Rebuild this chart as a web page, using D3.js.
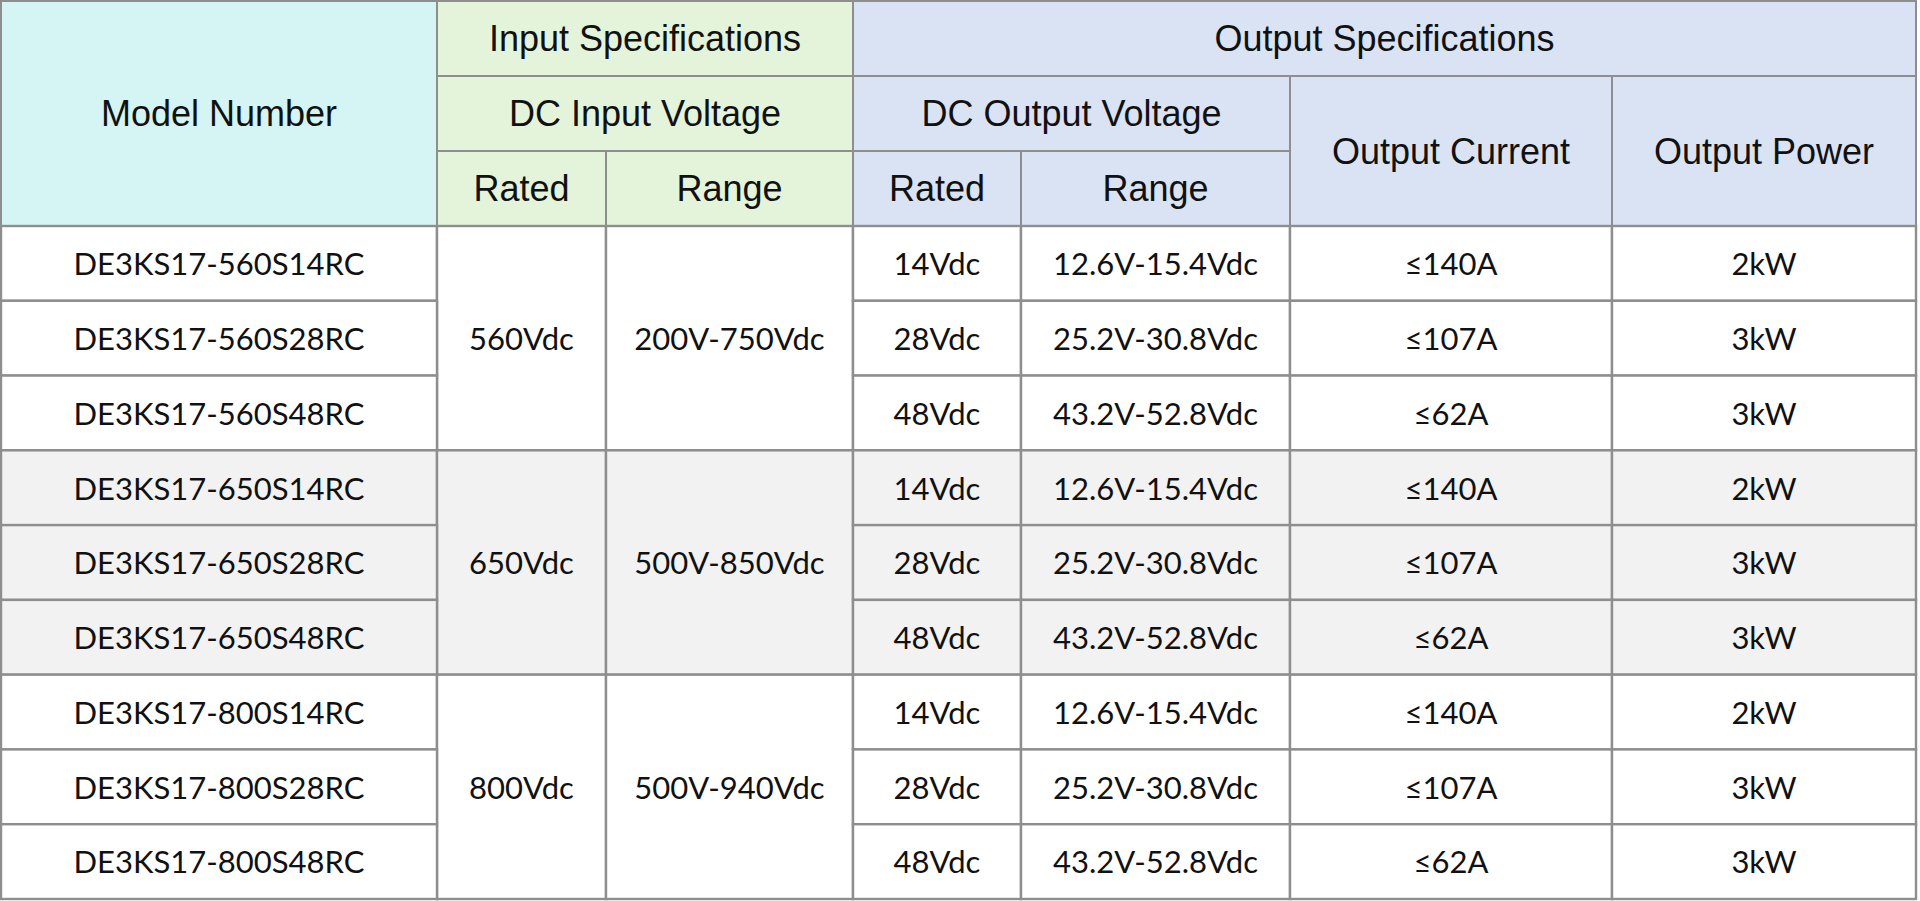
<!DOCTYPE html>
<html>
<head>
<meta charset="utf-8">
<script src="https://cdn.jsdelivr.net/npm/d3@7"></script>
<style>
  html, body { margin: 0; padding: 0; background: #fff; overflow: hidden; }
  .hdr { font-family: "Liberation Sans", Arial, sans-serif; font-size: 36px; fill: #111; }
  .cell { font-family: Lato, "Open Sans", sans-serif; font-size: 31px; fill: #111; }
</style>
</head>
<body>
<div class="chart"></div>
<script>
// table data
const models = ["DE3KS17-560S14RC", "DE3KS17-560S28RC", "DE3KS17-560S48RC",
                "DE3KS17-650S14RC", "DE3KS17-650S28RC", "DE3KS17-650S48RC",
                "DE3KS17-800S14RC", "DE3KS17-800S28RC", "DE3KS17-800S48RC"];
const inputRated = ["560Vdc", "650Vdc", "800Vdc"];
const inputRange = ["200V-750Vdc", "500V-850Vdc", "500V-940Vdc"];
const outputRated = ["14Vdc", "28Vdc", "48Vdc", "14Vdc", "28Vdc", "48Vdc", "14Vdc", "28Vdc", "48Vdc"];
const outputRange = ["12.6V-15.4Vdc", "25.2V-30.8Vdc", "43.2V-52.8Vdc",
                     "12.6V-15.4Vdc", "25.2V-30.8Vdc", "43.2V-52.8Vdc",
                     "12.6V-15.4Vdc", "25.2V-30.8Vdc", "43.2V-52.8Vdc"];
const outputCurrent = ["≤140A", "≤107A", "≤62A", "≤140A", "≤107A", "≤62A", "≤140A", "≤107A", "≤62A"];
const outputPower = ["2kW", "3kW", "3kW", "2kW", "3kW", "3kW", "2kW", "3kW", "3kW"];

// header cells: text, first col, last col, first row, last row, group
const headers = [
  ["Model Number", 0, 0, 0, 2, "model"],
  ["Input Specifications", 1, 2, 0, 0, "input"],
  ["DC Input Voltage", 1, 2, 1, 1, "input"],
  ["Rated", 1, 1, 2, 2, "input"],
  ["Range", 2, 2, 2, 2, "input"],
  ["Output Specifications", 3, 6, 0, 0, "output"],
  ["DC Output Voltage", 3, 4, 1, 1, "output"],
  ["Rated", 3, 3, 2, 2, "output"],
  ["Range", 4, 4, 2, 2, "output"],
  ["Output Current", 5, 5, 1, 2, "output"],
  ["Output Power", 6, 6, 1, 2, "output"]
];

// layout
const width = 1920, height = 901;
const colEdges = [1, 437, 606, 853, 1021, 1290, 1612, 1916];
const headFill = { model: "#d4f5f3", input: "#e4f4da", output: "#dae3f4" };
const groupFill = ["#ffffff", "#f2f2f2", "#ffffff"];
const lineColor = "#8e8e8e";

const svg = d3.select(".chart")
  .append("svg")
  .attr("width", width)
  .attr("height", height);

// scales for rows
const yHead = d3.scaleBand().domain(d3.range(3)).range([1, 226]);
const yBody = d3.scaleBand().domain(d3.range(models.length)).range([226, 899]);
const x0 = c => colEdges[c];
const x1 = c => colEdges[c + 1];

// header
const hg = svg.append("g");
const hcell = hg.selectAll("g").data(headers).join("g");
hcell.append("rect")
  .attr("x", d => x0(d[1]))
  .attr("y", d => yHead(d[3]))
  .attr("width", d => x1(d[2]) - x0(d[1]))
  .attr("height", d => yHead(d[4]) + yHead.bandwidth() - yHead(d[3]))
  .attr("fill", d => headFill[d[5]])
  .attr("stroke", lineColor)
  .attr("stroke-width", 2);
hcell.append("text")
  .attr("class", "hdr")
  .attr("text-anchor", "middle")
  .attr("x", d => (x0(d[1]) + x1(d[2])) / 2)
  .attr("y", d => (yHead(d[3]) + yHead(d[4]) + yHead.bandwidth()) / 2)
  .attr("dy", "0.36em")
  .text(d => d[0]);

// body: build cells from arrays
const bodyCells = [];
models.forEach((m, i) => {
  const g = Math.floor(i / 3);
  bodyCells.push({ text: m, c: 0, r0: i, r1: i, g });
  if (i % 3 === 0) {
    bodyCells.push({ text: inputRated[g], c: 1, r0: i, r1: i + 2, g });
    bodyCells.push({ text: inputRange[g], c: 2, r0: i, r1: i + 2, g });
  }
  bodyCells.push({ text: outputRated[i], c: 3, r0: i, r1: i, g });
  bodyCells.push({ text: outputRange[i], c: 4, r0: i, r1: i, g });
  bodyCells.push({ text: outputCurrent[i], c: 5, r0: i, r1: i, g });
  bodyCells.push({ text: outputPower[i], c: 6, r0: i, r1: i, g });
});

const bg = svg.append("g");
const bcell = bg.selectAll("g").data(bodyCells).join("g");
bcell.append("rect")
  .attr("x", d => x0(d.c))
  .attr("y", d => yBody(d.r0))
  .attr("width", d => x1(d.c) - x0(d.c))
  .attr("height", d => yBody(d.r1) + yBody.bandwidth() - yBody(d.r0))
  .attr("fill", d => groupFill[d.g])
  .attr("stroke", lineColor)
  .attr("stroke-width", 2.4);
bcell.append("text")
  .attr("class", "cell")
  .attr("text-anchor", "middle")
  .attr("x", d => (x0(d.c) + x1(d.c)) / 2)
  .attr("y", d => (yBody(d.r0) + yBody(d.r1) + yBody.bandwidth()) / 2)
  .attr("dy", "0.38em")
  .text(d => d.text);
</script>
</body>
</html>
